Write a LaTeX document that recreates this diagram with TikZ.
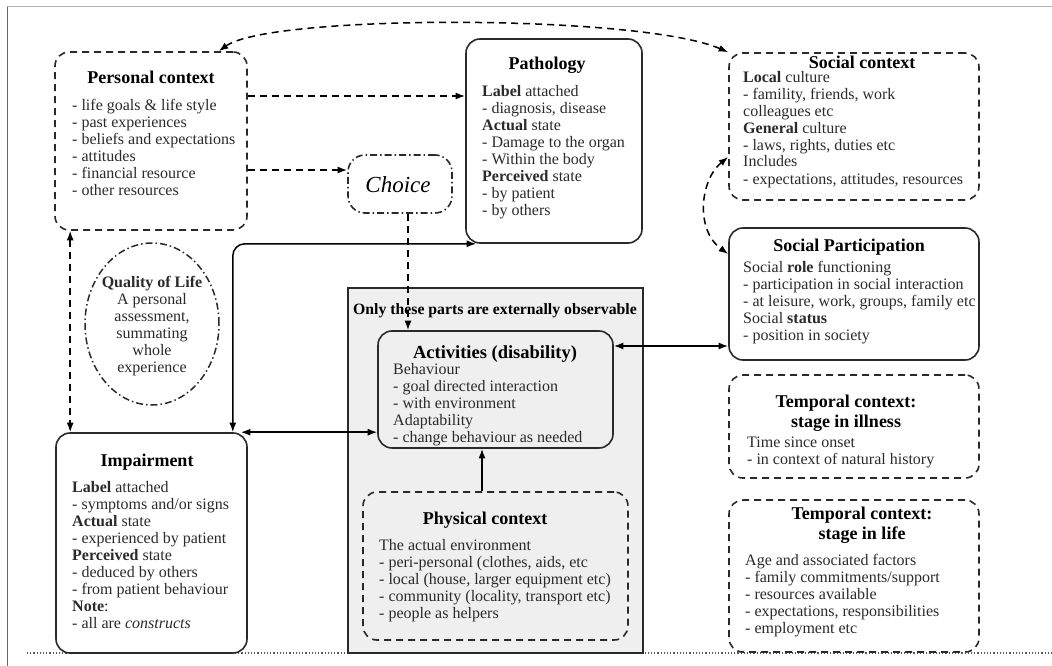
\documentclass[tikz,border=0pt]{standalone}
\usepackage{fontspec}
\setmainfont{Liberation Serif}
\usetikzlibrary{arrows.meta,shapes.geometric}
\definecolor{linec}{HTML}{2A2A2A}
\definecolor{txtc}{HTML}{2A2A2A}
\definecolor{obsfill}{HTML}{EFEFEF}
\begin{document}
\begin{tikzpicture}[x=1pt,y=-1pt,
  >={Latex[length=9.5pt,width=7pt]},
  box/.style={draw=linec, line width=1.6pt, rounded corners=14pt, inner sep=0pt},
  solidbox/.style={box},
  dashbox/.style={box, dash pattern=on 7pt off 5pt},
  ddbox/.style={box, rounded corners=17pt, dash pattern=on 7pt off 3pt on 1.5pt off 3pt},
  ttl/.style={font=\bfseries\fontsize{18}{20}\selectfont, anchor=base, inner sep=0pt, align=center},
  body/.style={font=\fontsize{16}{17}\selectfont, text=txtc, align=left, anchor=base west, inner sep=0pt},
  conn/.style={draw=black, line width=1.5pt},
  dconn/.style={conn, dash pattern=on 7pt off 5pt},
]
\useasboundingbox (0,0) rectangle (1052,666);
% frame
\draw[gray!60, line width=1pt] (7,7) -- (1052,7);
\draw[gray!80!black, line width=1pt] (7,7) -- (7,666);
\draw[dotted, line width=1.2pt, gray!70!black] (27,653) -- (1052,653);

% observable area
\node[draw=linec, line width=1.8pt, fill=obsfill, minimum width=295pt, minimum height=365pt, inner sep=0pt] (obs) at (495.5,470.5) {};
\node[ttl, font=\bfseries\fontsize{15.75}{18}\selectfont] (obst) at (495,314) {Only these parts are externally observable};

% boxes
\node[dashbox, minimum width=192pt, minimum height=178pt] (pc) at (151,141) {};
\node[solidbox, minimum width=176pt, minimum height=204pt] (path) at (554,141) {};
\node[ddbox, minimum width=104pt, minimum height=58pt] (choice) at (400,184) {};
\node[dashbox, minimum width=250pt, minimum height=147pt] (sc) at (854,126.5) {};
\node[solidbox, minimum width=250pt, minimum height=132pt] (sp) at (854,294) {};
\node[dashbox, minimum width=250pt, minimum height=103pt] (ti) at (854,426.5) {};
\node[dashbox, minimum width=250pt, minimum height=152pt] (tl) at (854,576) {};
\node[solidbox, minimum width=191pt, minimum height=220pt] (imp) at (151.5,543) {};
\node[solidbox, fill=obsfill, minimum width=235pt, minimum height=117pt] (act) at (495.5,389.5) {};
\node[dashbox, minimum width=265pt, minimum height=148pt] (phy) at (495.5,566) {};
\node[ellipse, draw=linec, line width=1.5pt, dash pattern=on 7pt off 3pt on 1.5pt off 3pt, minimum width=134pt, minimum height=162pt, inner sep=0pt] (qol) at (152,324) {};

% texts (multi-line nodes: base = baseline of last line)
\node[ttl] (pct) at (151,84) {Personal context};
\node[body] (pcb) at (72,195) {- life goals \& life style\\- past experiences\\- beliefs and expectations\\- attitudes\\- financial resource\\- other resources};

\node[ttl] (patht) at (547,70) {Pathology};
\node[body] (pathb) at (482,215) {\textbf{Label} attached\\- diagnosis, disease\\\textbf{Actual} state\\- Damage to the organ\\- Within the body\\\textbf{Perceived} state\\- by patient\\- by others};

\node[anchor=base, inner sep=0pt, font=\itshape\fontsize{23}{26}\selectfont] (choicet) at (398,192) {Choice};

\node[ttl] (sct) at (862,69) {Social context};
\node[body] (scb) at (743,184) {\textbf{Local} culture\\- famility, friends, work\\colleagues etc\\\textbf{General} culture\\- laws, rights, duties etc\\Includes\\- expectations, attitudes, resources};

\node[ttl] (spt) at (849,251) {Social Participation};
\node[body] (spb) at (743,340) {Social \textbf{role} functioning\\- participation in social interaction\\- at leisure, work, groups, family etc\\Social \textbf{status}\\- position in society};

\node[ttl] (tit) at (846,427) {Temporal context:\\stage in illness};
\node[body] (tib) at (747,464) {Time since onset\\- in context of natural history};

\node[ttl] (tlt) at (862,539) {Temporal context:\\stage in life};
\node[body] (tlb) at (745,633) {Age and associated factors\\- family commitments/support\\- resources available\\- expectations, responsibilities\\- employment etc};

\node[body, anchor=base, align=center] (qolt) at (152,372) {\textbf{\fontsize{16}{17}\selectfont Quality of Life}\\A personal\\assessment,\\summating\\whole\\experience};

\node[ttl] (impt) at (147,466) {Impairment};
\node[body] (impb) at (72,628) {\textbf{Label} attached\\- symptoms and/or signs\\\textbf{Actual} state\\- experienced by patient\\\textbf{Perceived} state\\- deduced by others\\- from patient behaviour\\\textbf{Note}:\\- all are \textit{constructs}};

\node[ttl, font=\bfseries\fontsize{18.5}{20}\selectfont] (actt) at (495,358) {Activities (disability)};
\node[body] (actb) at (393,442) {Behaviour\\- goal directed interaction\\- with environment\\Adaptability\\- change behaviour as needed};

\node[ttl] (phyt) at (485,524) {Physical context};
\node[body] (phyb) at (379,618) {The actual environment\\- peri-personal (clothes, aids, etc\\- local (house, larger equipment etc)\\- community (locality, transport etc)\\- people as helpers};

% connectors
\draw[dconn,<->] ([xshift=-29pt]pc.north east) .. controls (270,14) and (640,14) .. (sc.north west);
\draw[dconn,->] (pc.east |- 0,96) -- (path.west |- 0,96);
\draw[dconn,->] (pc.east |- 0,170) -- (choice.west |- 0,170);
\draw[dconn,->] ([xshift=8pt]choice.south) -- ([xshift=8pt]choice.south |- act.north);
\draw[dconn,<->] ([yshift=-30.5pt]sc.west) .. controls (700,180) and (695,230) .. ([yshift=40pt]sp.west);
\draw[conn,<->] (act.east |- 0,346) -- (sp.west |- 0,346);
\draw[conn,<->, rounded corners=12pt] ([xshift=-15pt]imp.north east) |- ([xshift=11pt]path.south west);
\draw[conn,<->] ([xshift=-7pt]imp.north east) -- (act.west |- imp.north);
\draw[conn,->] ([xshift=-13.5pt]phy.north) -- ([xshift=-13.5pt]act.south);
\draw[dconn,<->] ([xshift=16pt]pc.south west) -- ([xshift=15pt]imp.north west);
\end{tikzpicture}
\end{document}
